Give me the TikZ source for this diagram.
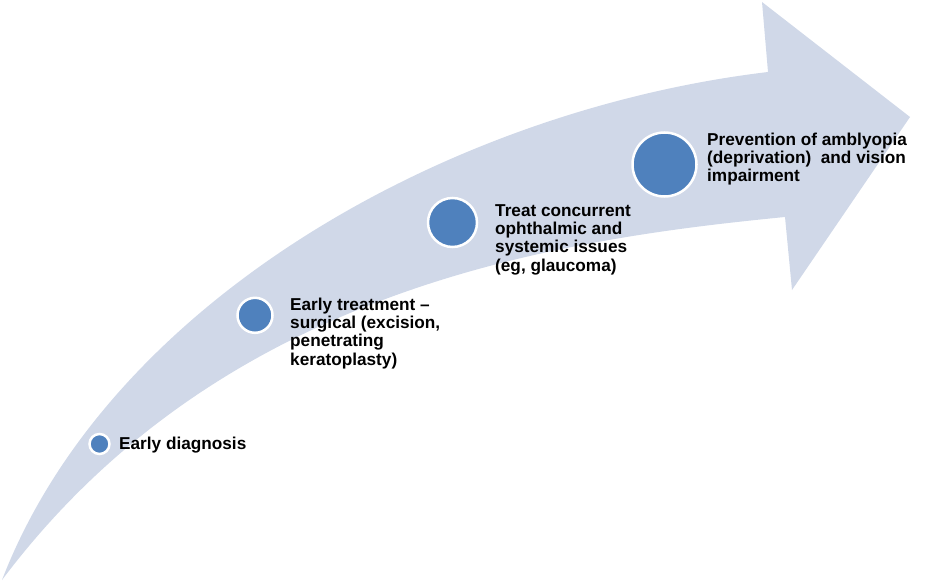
\documentclass[tikz,border=0pt]{standalone}
\usepackage{fontspec}
\setmainfont{Liberation Sans}
\definecolor{arrowfill}{HTML}{D0D8E8}
\definecolor{dotblue}{HTML}{4F81BD}
\begin{document}
\begin{tikzpicture}[x=1pt,y=-1pt,
  dot/.style={circle,fill=dotblue,draw=white,line width=2.5pt,inner sep=0pt},
  lbl/.style={anchor=base west,inner sep=0pt,align=left,
    font=\fontsize{17.2}{18.3}\selectfont\bfseries}]
\useasboundingbox (0,0) rectangle (925,583);
\fill[arrowfill] (2,580) .. controls (110,300) and (450,110) .. (768,72)
  -- (762,2) -- (910,117) -- (792,290) -- (785,217)
  .. controls (550,240) and (220,290) .. (2,580) -- cycle;
\node[dot,minimum size=20pt] (c1) at (99.5,444) {};
\node[dot,minimum size=35pt] (c2) at (255,315.3) {};
\node[dot,minimum size=49pt] (c3) at (452.5,222.5) {};
\node[dot,minimum size=64pt] (c4) at (664.5,164.5) {};
\node[lbl] (t1) at (119,449) {Early diagnosis};
\node[lbl] (t2) at (290,365) {Early treatment --\\surgical (excision,\\penetrating\\keratoplasty)};
\node[lbl] (t3) at (495,271) {Treat concurrent\\ophthalmic and\\systemic issues\\(eg, glaucoma)};
\node[lbl] (t4) at (707,181.7) {Prevention of amblyopia\\(deprivation)\ \ and vision\\impairment};
\end{tikzpicture}
\end{document}
